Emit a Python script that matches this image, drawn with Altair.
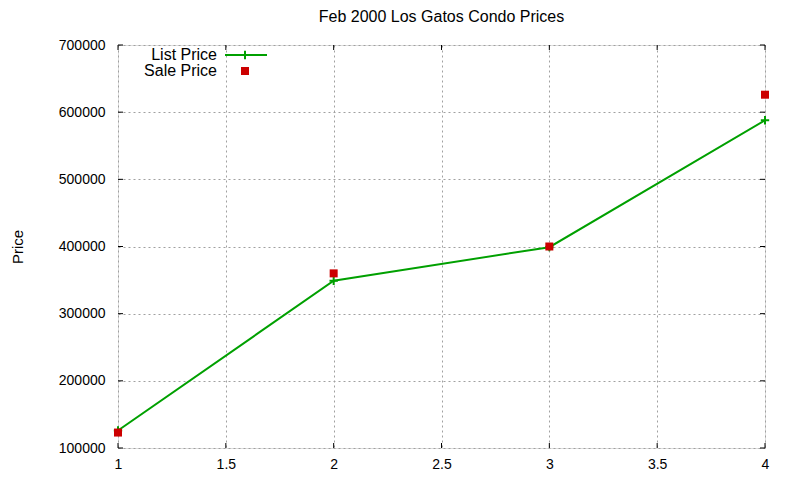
import altair as alt
import pandas as pd

# data
x_vals = [1, 2, 3, 4]
list_price = [126000, 349000, 399000, 588000]
sale_price = [123000, 360000, 400000, 626000]
x_ticks = [1, 1.5, 2, 2.5, 3, 3.5, 4]
y_ticks = [100000, 200000, 300000, 400000, 500000, 600000, 700000]
legend_labels = ["List Price", "Sale Price"]

W, H = 647, 403
FONT = "Liberation Sans"
GREEN = "#00a000"
RED = "#cc0000"

df = pd.DataFrame({"x": x_vals, "list": list_price, "sale": sale_price})
xt = pd.DataFrame({"t": x_ticks})
yt = pd.DataFrame({"t": y_ticks})

xs = alt.Scale(domain=[1, 4], nice=False, zero=False)
ys = alt.Scale(domain=[100000, 700000], nice=False, zero=False)

x_axis = alt.Axis(values=x_ticks, grid=True, gridColor="#a0a0a0", gridDash=[2, 3],
                  gridWidth=1, domain=False, ticks=False, labelPadding=9,
                  labelFont=FONT, labelFontSize=14, labelColor="black",
                  labelFlush=False, labelExpr="datum.value", title=None)
y_axis = alt.Axis(values=y_ticks, grid=True, gridColor="#a0a0a0", gridDash=[2, 3],
                  gridWidth=1, domain=False, ticks=False, labelPadding=13,
                  labelFont=FONT, labelFontSize=14, labelColor="black",
                  format="d", title="Price", titleFont=FONT, titleFontSize=15,
                  titleFontWeight="normal", titleColor="black", titleAngle=270,
                  titleX=-101, titleY=H / 2, titleAlign="center", titleBaseline="middle")

base = alt.Chart(df)

line = base.mark_line(color=GREEN, strokeWidth=2).encode(
    x=alt.X("x:Q", scale=xs, axis=x_axis),
    y=alt.Y("list:Q", scale=ys, axis=y_axis),
)
plus = "M-1,0L1,0M0,-1L0,1"
list_pts = base.mark_point(shape=plus, filled=False, color=GREEN, strokeWidth=2,
                           size=70, opacity=1).encode(
    x=alt.X("x:Q", scale=xs), y=alt.Y("list:Q", scale=ys))
sale_pts = base.mark_square(color=RED, size=64, opacity=1).encode(
    x=alt.X("x:Q", scale=xs), y=alt.Y("sale:Q", scale=ys))

# inward ticks (mirrored on all sides)
tick_b = alt.Chart(xt).mark_rule(color="black", strokeWidth=1).encode(
    x=alt.X("t:Q", scale=xs), y=alt.value(H), y2=alt.value(H - 5))
tick_t = alt.Chart(xt).mark_rule(color="black", strokeWidth=1).encode(
    x=alt.X("t:Q", scale=xs), y=alt.value(0), y2=alt.value(5))
tick_l = alt.Chart(yt).mark_rule(color="black", strokeWidth=1).encode(
    y=alt.Y("t:Q", scale=ys), x=alt.value(0), x2=alt.value(5))
tick_r = alt.Chart(yt).mark_rule(color="black", strokeWidth=1).encode(
    y=alt.Y("t:Q", scale=ys), x=alt.value(W), x2=alt.value(W - 5))

# legend (gnuplot style: right-aligned text, symbol to the right)
leg1 = pd.DataFrame({"label": [legend_labels[0]]})
leg2 = pd.DataFrame({"label": [legend_labels[1]]})
leg_text1 = alt.Chart(leg1).mark_text(align="right", baseline="middle", font=FONT,
                                      fontSize=16, color="black").encode(
    text="label:N", x=alt.value(99), y=alt.value(10))
leg_text2 = alt.Chart(leg2).mark_text(align="right", baseline="middle", font=FONT,
                                      fontSize=16, color="black").encode(
    text="label:N", x=alt.value(99), y=alt.value(26))
leg_line = alt.Chart(leg1).mark_rule(color=GREEN, strokeWidth=2).encode(
    x=alt.value(107), x2=alt.value(149), y=alt.value(10))
leg_plus = alt.Chart(leg1).mark_point(shape=plus, filled=False, color=GREEN,
                                      strokeWidth=2, size=70, opacity=1).encode(
    x=alt.value(127), y=alt.value(10))
leg_sq = alt.Chart(leg2).mark_square(color=RED, size=64, opacity=1).encode(
    x=alt.value(127), y=alt.value(26))

chart = alt.layer(line, tick_b, tick_t, tick_l, tick_r, list_pts, sale_pts,
                  leg_text1, leg_text2, leg_line, leg_plus, leg_sq).properties(
    width=W, height=H,
    title=alt.Title("Feb 2000 Los Gatos Condo Prices", font=FONT, fontSize=16,
                    fontWeight="normal", color="black", offset=13, anchor="middle"),
    autosize=alt.AutoSizeParams(type="none"),
    padding={"left": 110, "top": 37, "right": 20, "bottom": 25},
).configure_view(stroke="black", strokeWidth=1).configure(background="white")

chart.save("out.html", embed_options={"renderer": "svg", "actions": False})
